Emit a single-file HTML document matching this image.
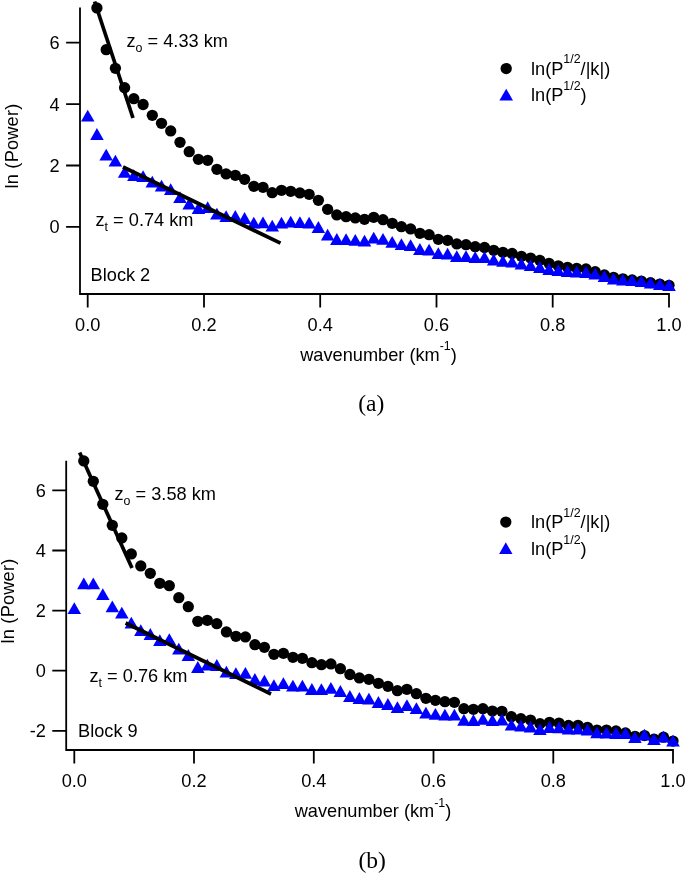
<!DOCTYPE html>
<html lang="en">
<head>
<meta charset="utf-8">
<title>Power spectrum depth estimates</title>
<style>
html,body{margin:0;padding:0;background:#fff;}
body{width:685px;height:873px;overflow:hidden;}
svg{display:block;will-change:transform;}
svg text{font-family:"Liberation Sans",Arial,Helvetica,sans-serif;font-size:18.2px;fill:#000;}
</style>
</head>
<body>
<svg width="685" height="873" viewBox="0 0 685 873">
<rect width="685" height="873" fill="#fff"/>
<g id="panel-a">
<g fill="#000"><circle cx="96.9" cy="7.9" r="5.65"/><circle cx="106.2" cy="49.7" r="5.65"/><circle cx="115.4" cy="68.3" r="5.65"/><circle cx="124.6" cy="87.7" r="5.65"/><circle cx="133.8" cy="98.7" r="5.65"/><circle cx="143.1" cy="104.5" r="5.65"/><circle cx="152.3" cy="115.3" r="5.65"/><circle cx="161.5" cy="123.3" r="5.65"/><circle cx="170.7" cy="130.9" r="5.65"/><circle cx="180" cy="142.3" r="5.65"/><circle cx="189.2" cy="151.7" r="5.65"/><circle cx="198.4" cy="159.3" r="5.65"/><circle cx="207.7" cy="160.3" r="5.65"/><circle cx="216.9" cy="169.3" r="5.65"/><circle cx="226.1" cy="173.9" r="5.65"/><circle cx="235.3" cy="175.3" r="5.65"/><circle cx="244.6" cy="179.3" r="5.65"/><circle cx="253.8" cy="186.3" r="5.65"/><circle cx="263" cy="187.3" r="5.65"/><circle cx="272.2" cy="192.7" r="5.65"/><circle cx="281.5" cy="190.3" r="5.65"/><circle cx="290.7" cy="191.3" r="5.65"/><circle cx="299.9" cy="192.9" r="5.65"/><circle cx="309.1" cy="194.3" r="5.65"/><circle cx="318.4" cy="200.3" r="5.65"/><circle cx="327.6" cy="209.3" r="5.65"/><circle cx="336.8" cy="214.9" r="5.65"/><circle cx="346.1" cy="216.7" r="5.65"/><circle cx="355.3" cy="217.9" r="5.65"/><circle cx="364.5" cy="219.3" r="5.65"/><circle cx="373.7" cy="217.3" r="5.65"/><circle cx="383" cy="219.7" r="5.65"/><circle cx="392.2" cy="223.3" r="5.65"/><circle cx="401.4" cy="226.7" r="5.65"/><circle cx="410.6" cy="228.9" r="5.65"/><circle cx="419.9" cy="233.3" r="5.65"/><circle cx="429.1" cy="234.7" r="5.65"/><circle cx="438.3" cy="239.3" r="5.65"/><circle cx="447.6" cy="240.3" r="5.65"/><circle cx="456.8" cy="243.9" r="5.65"/><circle cx="466" cy="244.7" r="5.65"/><circle cx="475.2" cy="246.7" r="5.65"/><circle cx="484.5" cy="247.5" r="5.65"/><circle cx="493.7" cy="250.3" r="5.65"/><circle cx="502.9" cy="252.3" r="5.65"/><circle cx="512.1" cy="253.5" r="5.65"/><circle cx="521.4" cy="256.3" r="5.65"/><circle cx="530.6" cy="258.1" r="5.65"/><circle cx="539.8" cy="260.3" r="5.65"/><circle cx="549" cy="263.3" r="5.65"/><circle cx="558.3" cy="265.8" r="5.65"/><circle cx="567.5" cy="267.3" r="5.65"/><circle cx="576.7" cy="268.3" r="5.65"/><circle cx="586" cy="268.9" r="5.65"/><circle cx="595.2" cy="271.7" r="5.65"/><circle cx="604.4" cy="275" r="5.65"/><circle cx="613.6" cy="277.3" r="5.65"/><circle cx="622.9" cy="278.8" r="5.65"/><circle cx="632.1" cy="279.9" r="5.65"/><circle cx="641.3" cy="281.1" r="5.65"/><circle cx="650.5" cy="282.7" r="5.65"/><circle cx="659.8" cy="284.1" r="5.65"/><circle cx="669" cy="285.3" r="5.65"/></g>
<g fill="#0000ff"><path d="M81 121.5L94.5 121.5L87.7 109.7Z"/><path d="M90.2 139.9L103.7 139.9L96.9 128.1Z"/><path d="M99.4 160.5L112.9 160.5L106.2 148.7Z"/><path d="M108.6 166.5L122.1 166.5L115.4 154.7Z"/><path d="M117.9 177.8L131.4 177.8L124.6 166Z"/><path d="M127.1 181.1L140.6 181.1L133.8 169.3Z"/><path d="M136.3 182L149.8 182L143.1 170.2Z"/><path d="M145.5 187.5L159 187.5L152.3 175.7Z"/><path d="M154.8 191.5L168.3 191.5L161.5 179.7Z"/><path d="M164 195L177.5 195L170.7 183.2Z"/><path d="M173.2 203.1L186.7 203.1L180 191.3Z"/><path d="M182.4 209.5L195.9 209.5L189.2 197.7Z"/><path d="M191.7 213.9L205.2 213.9L198.4 202.1Z"/><path d="M200.9 213.1L214.4 213.1L207.7 201.3Z"/><path d="M210.1 219.5L223.6 219.5L216.9 207.7Z"/><path d="M219.4 222.1L232.9 222.1L226.1 210.3Z"/><path d="M228.6 221.9L242.1 221.9L235.3 210.1Z"/><path d="M237.8 223.9L251.3 223.9L244.6 212.1Z"/><path d="M247 228.5L260.5 228.5L253.8 216.7Z"/><path d="M256.3 228.3L269.8 228.3L263 216.5Z"/><path d="M265.5 231.5L279 231.5L272.2 219.7Z"/><path d="M274.7 228.5L288.2 228.5L281.5 216.7Z"/><path d="M283.9 227.5L297.4 227.5L290.7 215.7Z"/><path d="M293.2 228.1L306.7 228.1L299.9 216.3Z"/><path d="M302.4 228.5L315.9 228.5L309.1 216.7Z"/><path d="M311.6 232.9L325.1 232.9L318.4 221.1Z"/><path d="M320.9 240.5L334.4 240.5L327.6 228.7Z"/><path d="M330.1 244.9L343.6 244.9L336.8 233.1Z"/><path d="M339.3 245.1L352.8 245.1L346.1 233.3Z"/><path d="M348.5 245.7L362 245.7L355.3 233.9Z"/><path d="M357.8 246.5L371.3 246.5L364.5 234.7Z"/><path d="M367 243.5L380.5 243.5L373.7 231.7Z"/><path d="M376.2 244.7L389.7 244.7L383 232.9Z"/><path d="M385.4 247.7L398.9 247.7L392.2 235.9Z"/><path d="M394.7 250.1L408.2 250.1L401.4 238.3Z"/><path d="M403.9 251.1L417.4 251.1L410.6 239.3Z"/><path d="M413.1 254.9L426.6 254.9L419.9 243.1Z"/><path d="M422.3 255.5L435.8 255.5L429.1 243.7Z"/><path d="M431.6 259.1L445.1 259.1L438.3 247.3Z"/><path d="M440.8 259.5L454.3 259.5L447.6 247.7Z"/><path d="M450 262.1L463.5 262.1L456.8 250.3Z"/><path d="M459.3 262.1L472.8 262.1L466 250.3Z"/><path d="M468.5 263.1L482 263.1L475.2 251.3Z"/><path d="M477.7 263.1L491.2 263.1L484.5 251.3Z"/><path d="M486.9 265.5L500.4 265.5L493.7 253.7Z"/><path d="M496.2 266.7L509.7 266.7L502.9 254.9Z"/><path d="M505.4 267.5L518.9 267.5L512.1 255.7Z"/><path d="M514.6 269.5L528.1 269.5L521.4 257.7Z"/><path d="M523.8 271.1L537.3 271.1L530.6 259.3Z"/><path d="M533.1 272.9L546.6 272.9L539.8 261.1Z"/><path d="M542.3 274.9L555.8 274.9L549 263.1Z"/><path d="M551.5 276.1L565 276.1L558.3 264.3Z"/><path d="M560.8 277.1L574.3 277.1L567.5 265.3Z"/><path d="M570 277.5L583.5 277.5L576.7 265.7Z"/><path d="M579.2 277.9L592.7 277.9L586 266.1Z"/><path d="M588.4 279.5L601.9 279.5L595.2 267.7Z"/><path d="M597.7 282.1L611.2 282.1L604.4 270.3Z"/><path d="M606.9 284.5L620.4 284.5L613.6 272.7Z"/><path d="M616.1 285.5L629.6 285.5L622.9 273.7Z"/><path d="M625.3 286.1L638.8 286.1L632.1 274.3Z"/><path d="M634.6 287.1L648.1 287.1L641.3 275.3Z"/><path d="M643.8 288.5L657.3 288.5L650.5 276.7Z"/><path d="M653 289.9L666.5 289.9L659.8 278.1Z"/><path d="M662.2 290.9L675.8 290.9L669 279.1Z"/></g>
<line x1="94.6" y1="1.5" x2="133" y2="118" stroke="#000" stroke-width="3.7"/>
<line x1="123" y1="167" x2="280.5" y2="243.2" stroke="#000" stroke-width="3.7"/>
<path d="M80 7.4V294H669.9M66.1 42.7H80M66.1 104.1H80M66.1 165.5H80M66.1 226.9H80M87.7 294V307.6M204 294V307.6M320.2 294V307.6M436.5 294V307.6M552.7 294V307.6M669 294V307.6" fill="none" stroke="#000" stroke-width="1.8" stroke-linecap="butt" stroke-linejoin="miter"/>
<text x="59.6" y="49.1" text-anchor="end">6</text>
<text x="59.6" y="110.5" text-anchor="end">4</text>
<text x="59.6" y="171.9" text-anchor="end">2</text>
<text x="59.6" y="233.3" text-anchor="end">0</text>
<text x="87.7" y="330.9" text-anchor="middle">0.0</text>
<text x="204" y="330.9" text-anchor="middle">0.2</text>
<text x="320.2" y="330.9" text-anchor="middle">0.4</text>
<text x="436.5" y="330.9" text-anchor="middle">0.6</text>
<text x="552.7" y="330.9" text-anchor="middle">0.8</text>
<text x="669" y="330.9" text-anchor="middle">1.0</text>
<text transform="translate(18 146) rotate(-90)" text-anchor="middle" letter-spacing="0.2">ln (Power)</text>
<text x="378.5" y="360.9" text-anchor="middle">wavenumber (km<tspan font-size="12.4" dy="-10.5">-1</tspan><tspan dy="10.5">)</tspan></text>
<text x="126.5" y="47">z<tspan font-size="12.4" dy="4.7">o</tspan><tspan dy="-4.7"> = 4.33 km</tspan></text>
<text x="95.5" y="226.4">z<tspan font-size="12.4" dy="4.7">t</tspan><tspan dy="-4.7"> = 0.74 km</tspan></text>
<text x="90.6" y="280.8">Block 2</text>
<circle cx="506.2" cy="68.6" r="5.65" fill="#000"/>
<path d="M499.4 100.5L513 100.5L506.2 88.7Z" fill="#0000ff"/>
<text x="531" y="74.6">ln(P<tspan font-size="12.4" dy="-11.3">1/2</tspan><tspan dy="11.3">/|k|)</tspan></text>
<text x="531" y="101.2">ln(P<tspan font-size="12.4" dy="-11.3">1/2</tspan><tspan dy="11.3">)</tspan></text>
<text x="371.3" y="410.6" text-anchor="middle" style="font-family:'Liberation Serif','Times New Roman',serif;font-size:23.5px">(a)</text>
</g>
<g id="panel-b">
<g fill="#000"><circle cx="83.8" cy="460.9" r="5.65"/><circle cx="93.3" cy="481.3" r="5.65"/><circle cx="102.8" cy="504.3" r="5.65"/><circle cx="112.3" cy="525.3" r="5.65"/><circle cx="121.8" cy="537.9" r="5.65"/><circle cx="131.3" cy="553.9" r="5.65"/><circle cx="140.8" cy="565.9" r="5.65"/><circle cx="150.3" cy="573.3" r="5.65"/><circle cx="159.8" cy="583.3" r="5.65"/><circle cx="169.3" cy="585.7" r="5.65"/><circle cx="178.8" cy="597.7" r="5.65"/><circle cx="188.3" cy="606.7" r="5.65"/><circle cx="197.8" cy="621.3" r="5.65"/><circle cx="207.3" cy="620.3" r="5.65"/><circle cx="216.8" cy="623.7" r="5.65"/><circle cx="226.4" cy="631.9" r="5.65"/><circle cx="235.9" cy="636.3" r="5.65"/><circle cx="245.4" cy="636.9" r="5.65"/><circle cx="254.9" cy="644.7" r="5.65"/><circle cx="264.4" cy="647.3" r="5.65"/><circle cx="273.9" cy="654.3" r="5.65"/><circle cx="283.4" cy="653.3" r="5.65"/><circle cx="292.9" cy="657.3" r="5.65"/><circle cx="302.4" cy="658.3" r="5.65"/><circle cx="311.9" cy="662.7" r="5.65"/><circle cx="321.4" cy="664.7" r="5.65"/><circle cx="330.9" cy="663.9" r="5.65"/><circle cx="340.4" cy="668.7" r="5.65"/><circle cx="349.9" cy="674.5" r="5.65"/><circle cx="359.4" cy="677.9" r="5.65"/><circle cx="368.9" cy="679.3" r="5.65"/><circle cx="378.4" cy="683.3" r="5.65"/><circle cx="387.9" cy="686.3" r="5.65"/><circle cx="397.4" cy="690.7" r="5.65"/><circle cx="406.9" cy="689.3" r="5.65"/><circle cx="416.4" cy="693.7" r="5.65"/><circle cx="425.9" cy="698.3" r="5.65"/><circle cx="435.4" cy="700.3" r="5.65"/><circle cx="444.9" cy="701.7" r="5.65"/><circle cx="454.4" cy="702.3" r="5.65"/><circle cx="463.9" cy="708.7" r="5.65"/><circle cx="473.4" cy="709.3" r="5.65"/><circle cx="482.9" cy="708.7" r="5.65"/><circle cx="492.4" cy="711.1" r="5.65"/><circle cx="501.9" cy="711.3" r="5.65"/><circle cx="511.4" cy="716.7" r="5.65"/><circle cx="520.9" cy="718.7" r="5.65"/><circle cx="530.5" cy="720.1" r="5.65"/><circle cx="540" cy="723.7" r="5.65"/><circle cx="549.5" cy="722.3" r="5.65"/><circle cx="559" cy="723.1" r="5.65"/><circle cx="568.5" cy="725.5" r="5.65"/><circle cx="578" cy="725.3" r="5.65"/><circle cx="587.5" cy="727.3" r="5.65"/><circle cx="597" cy="730.1" r="5.65"/><circle cx="606.5" cy="730.1" r="5.65"/><circle cx="616" cy="730.9" r="5.65"/><circle cx="625.5" cy="732.9" r="5.65"/><circle cx="635" cy="736.3" r="5.65"/><circle cx="644.5" cy="735.6" r="5.65"/><circle cx="654" cy="739.1" r="5.65"/><circle cx="663.5" cy="737.2" r="5.65"/><circle cx="673" cy="741.1" r="5.65"/></g>
<g fill="#0000ff"><path d="M67.5 614.1L81 614.1L74.3 602.3Z"/><path d="M77.1 589.2L90.6 589.2L83.8 577.4Z"/><path d="M86.6 589.2L100.1 589.2L93.3 577.4Z"/><path d="M96.1 600L109.6 600L102.8 588.2Z"/><path d="M105.6 612.2L119.1 612.2L112.3 600.4Z"/><path d="M115.1 618.5L128.6 618.5L121.8 606.7Z"/><path d="M124.6 628.5L138.1 628.5L131.3 616.7Z"/><path d="M134.1 636.1L147.6 636.1L140.8 624.3Z"/><path d="M143.6 639.9L157.1 639.9L150.3 628.1Z"/><path d="M153.1 646.1L166.6 646.1L159.8 634.3Z"/><path d="M162.6 645.1L176.1 645.1L169.3 633.3Z"/><path d="M172.1 654.5L185.6 654.5L178.8 642.7Z"/><path d="M181.6 660.9L195.1 660.9L188.3 649.1Z"/><path d="M191.1 672.9L204.6 672.9L197.8 661.1Z"/><path d="M200.6 670.5L214.1 670.5L207.3 658.7Z"/><path d="M210.1 670.9L223.6 670.9L216.8 659.1Z"/><path d="M219.6 677.5L233.1 677.5L226.4 665.7Z"/><path d="M229.1 679.1L242.6 679.1L235.9 667.3Z"/><path d="M238.6 678.8L252.1 678.8L245.4 667Z"/><path d="M248.1 684.9L261.6 684.9L254.9 673.1Z"/><path d="M257.6 686.5L271.1 686.5L264.4 674.7Z"/><path d="M267.1 691.1L280.6 691.1L273.9 679.3Z"/><path d="M276.6 689.1L290.1 689.1L283.4 677.3Z"/><path d="M286.1 691.5L299.6 691.5L292.9 679.7Z"/><path d="M295.6 691.5L309.1 691.5L302.4 679.7Z"/><path d="M305.1 694.9L318.6 694.9L311.9 683.1Z"/><path d="M314.6 695.1L328.1 695.1L321.4 683.3Z"/><path d="M324.1 693.7L337.6 693.7L330.9 681.9Z"/><path d="M333.6 696.9L347.1 696.9L340.4 685.1Z"/><path d="M343.1 701.9L356.6 701.9L349.9 690.1Z"/><path d="M352.6 703.9L366.1 703.9L359.4 692.1Z"/><path d="M362.1 704.5L375.6 704.5L368.9 692.7Z"/><path d="M371.7 707.9L385.2 707.9L378.4 696.1Z"/><path d="M381.2 709.9L394.7 709.9L387.9 698.1Z"/><path d="M390.7 713.1L404.2 713.1L397.4 701.3Z"/><path d="M400.2 711.1L413.7 711.1L406.9 699.3Z"/><path d="M409.7 714.1L423.2 714.1L416.4 702.3Z"/><path d="M419.2 718.5L432.7 718.5L425.9 706.7Z"/><path d="M428.7 719.7L442.2 719.7L435.4 707.9Z"/><path d="M438.2 720.5L451.7 720.5L444.9 708.7Z"/><path d="M447.7 720.5L461.2 720.5L454.4 708.7Z"/><path d="M457.2 725.7L470.7 725.7L463.9 713.9Z"/><path d="M466.7 726L480.2 726L473.4 714.2Z"/><path d="M476.2 724.7L489.7 724.7L482.9 712.9Z"/><path d="M485.7 726.1L499.2 726.1L492.4 714.3Z"/><path d="M495.2 725.5L508.7 725.5L501.9 713.7Z"/><path d="M504.7 730.5L518.2 730.5L511.4 718.7Z"/><path d="M514.2 731.5L527.7 731.5L520.9 719.7Z"/><path d="M523.7 732.5L537.2 732.5L530.5 720.7Z"/><path d="M533.2 735.1L546.7 735.1L540 723.3Z"/><path d="M542.7 732.9L556.2 732.9L549.5 721.1Z"/><path d="M552.2 733.3L565.7 733.3L559 721.5Z"/><path d="M561.7 734.5L575.2 734.5L568.5 722.7Z"/><path d="M571.2 734.5L584.7 734.5L578 722.7Z"/><path d="M580.7 735.5L594.2 735.5L587.5 723.7Z"/><path d="M590.2 738.3L603.7 738.3L597 726.5Z"/><path d="M599.7 738.5L613.2 738.5L606.5 726.7Z"/><path d="M609.2 738.9L622.7 738.9L616 727.1Z"/><path d="M618.7 739.1L632.2 739.1L625.5 727.3Z"/><path d="M628.2 743.1L641.7 743.1L635 731.3Z"/><path d="M637.7 740.5L651.2 740.5L644.5 728.7Z"/><path d="M647.2 745.1L660.7 745.1L654 733.3Z"/><path d="M656.7 742.5L670.2 742.5L663.5 730.7Z"/><path d="M666.2 746.5L679.8 746.5L673 734.7Z"/></g>
<line x1="79.6" y1="452.6" x2="132" y2="568" stroke="#000" stroke-width="3.7"/>
<line x1="125.6" y1="623" x2="271" y2="694" stroke="#000" stroke-width="3.7"/>
<path d="M66.2 460.7V750H673.9M52.3 490.4H66.2M52.3 550.5H66.2M52.3 610.6H66.2M52.3 670.7H66.2M52.3 730.8H66.2M74.3 750V763.6M194 750V763.6M313.8 750V763.6M433.5 750V763.6M553.3 750V763.6M673 750V763.6" fill="none" stroke="#000" stroke-width="1.8" stroke-linecap="butt" stroke-linejoin="miter"/>
<text x="45.8" y="496.8" text-anchor="end">6</text>
<text x="45.8" y="556.9" text-anchor="end">4</text>
<text x="45.8" y="617" text-anchor="end">2</text>
<text x="45.8" y="677.1" text-anchor="end">0</text>
<text x="45.8" y="737.2" text-anchor="end">-2</text>
<text x="74.3" y="786.9" text-anchor="middle">0.0</text>
<text x="194" y="786.9" text-anchor="middle">0.2</text>
<text x="313.8" y="786.9" text-anchor="middle">0.4</text>
<text x="433.5" y="786.9" text-anchor="middle">0.6</text>
<text x="553.3" y="786.9" text-anchor="middle">0.8</text>
<text x="673" y="786.9" text-anchor="middle">1.0</text>
<text transform="translate(13.7 601) rotate(-90)" text-anchor="middle" letter-spacing="0.2">ln (Power)</text>
<text x="373.0" y="817.3" text-anchor="middle">wavenumber (km<tspan font-size="12.4" dy="-10.5">-1</tspan><tspan dy="10.5">)</tspan></text>
<text x="114.5" y="500">z<tspan font-size="12.4" dy="4.7">o</tspan><tspan dy="-4.7"> = 3.58 km</tspan></text>
<text x="89.5" y="681.8">z<tspan font-size="12.4" dy="4.7">t</tspan><tspan dy="-4.7"> = 0.76 km</tspan></text>
<text x="78" y="736.7">Block 9</text>
<circle cx="505.8" cy="522.1" r="5.65" fill="#000"/>
<path d="M499.1 554.1L512.5 554.1L505.8 542.3Z" fill="#0000ff"/>
<text x="531" y="528.1">ln(P<tspan font-size="12.4" dy="-11.3">1/2</tspan><tspan dy="11.3">/|k|)</tspan></text>
<text x="531" y="554.8">ln(P<tspan font-size="12.4" dy="-11.3">1/2</tspan><tspan dy="11.3">)</tspan></text>
<text x="372.2" y="867.8" text-anchor="middle" style="font-family:'Liberation Serif','Times New Roman',serif;font-size:23.5px">(b)</text>
</g>
</svg>
</body>
</html>
